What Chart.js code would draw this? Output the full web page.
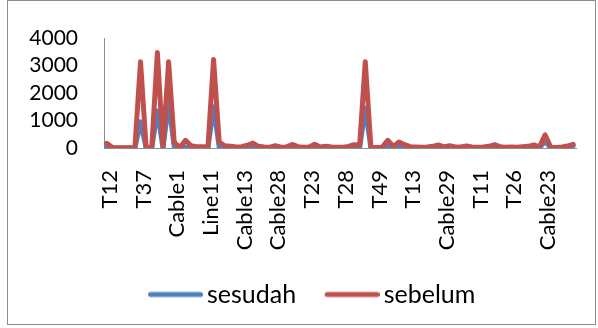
<!DOCTYPE html>
<html>
<head>
<meta charset="utf-8">
<script src="https://cdn.jsdelivr.net/npm/chart.js@4"></script>
<style>
  html, body { margin: 0; padding: 0; background: #fff; }
  #wrap { position: relative; width: 598px; height: 328px; overflow: hidden; }
  #frame { position: absolute; left: 7px; top: 0px; width: 589px; height: 325px; border: 1px solid #8c8c8c; box-sizing: border-box; }
  #c { position: absolute; left: 0; top: 0; }
</style>
</head>
<body>
<div id="wrap">
  <div id="frame"></div>
  <canvas id="c" width="598" height="328"></canvas>
</div>
<script>
// Tick labels shown on the category axis (every 6th category)
const tickLabels = ['T12','T37','Cable1','Line11','Cable13','Cable28','T23','T28','T49','T13','Cable29','T11','T26','Cable23'];
const labelStep = 6;

// Series values (84 categories)
const sebelum = [
  170, 20, 10, 10, 10, 20, 3140, 20, 20, 3470,
  20, 3140, 200, 20, 280, 80, 50, 50, 40, 3220,
  220, 80, 60, 40, 50, 100, 180, 60, 40, 30,
  80, 30, 40, 130, 50, 30, 40, 140, 40, 60,
  40, 30, 30, 60, 120, 110, 3140, 20, 20, 30,
  280, 60, 220, 120, 50, 40, 30, 40, 60, 110,
  40, 80, 40, 40, 70, 40, 30, 40, 60, 120,
  50, 30, 40, 30, 50, 60, 110, 40, 480, 30,
  20, 40, 70, 130
];
const sesudah = [
  50, 0, 0, 0, 0, 0, 950, 0, 0, 1350,
  0, 1650, 50, 0, 30, 0, 0, 0, 0, 1500,
  30, 0, 0, 0, 0, 10, 20, 0, 0, 0,
  10, 0, 0, 10, 0, 0, 0, 10, 0, 0,
  0, 0, 0, 0, 10, 10, 1450, 0, 0, 0,
  60, 0, 50, 10, 0, 0, 0, 0, 10, 10,
  0, 10, 0, 0, 10, 0, 0, 0, 0, 10,
  0, 0, 0, 0, 0, 10, 10, 0, 250, 0,
  0, 0, 10, 80
];
const yTicks = [0, 1000, 2000, 3000, 4000];

const categories = sebelum.map((_, i) => (i % labelStep === 0 ? (tickLabels[i / labelStep] || '') : ''));

const PAD_L = 10, PAD_R = 22, PAD_T = 38, PAD_B = 11;
const PLOT_LEFT = 104, PLOT_BOTTOM = 148;
const LEG_FONT = 25, LEG_PAD = 20;
const LEGEND_H = LEG_FONT + LEG_PAD + 10;
const BOX_W = 55;
const TEXT_GAP = 4;
const LEGEND_START = 148 - (LEG_FONT / 2 - TEXT_GAP);

// Legend symbol: a thick rounded line that ends TEXT_GAP px before the label text
function legendLine(color) {
  const extra = LEG_FONT / 2 - TEXT_GAP;
  const c = document.createElement('canvas');
  c.width = Math.round(BOX_W + 2 * extra);
  c.height = 8;
  const g = c.getContext('2d');
  g.strokeStyle = color; g.lineWidth = 5; g.lineCap = 'round';
  g.beginPath();
  g.moveTo(2 * extra + 2.5, 4);
  g.lineTo(c.width - 2.5, 4);
  g.stroke();
  return c;
}

const legendShift = {
  id: 'legendShift',
  afterLayout(chart) {
    const l = chart.legend;
    if (!l || !l.lineWidths) return;
    const pad = l.options.labels.padding;
    const start = (l.left + pad + l.right - l.lineWidths[0]) / 2;
    const dx = LEGEND_START - start;
    l.left += dx; l.right += dx;
  }
};

new Chart(document.getElementById('c'), {
  type: 'line',
  data: {
    labels: categories,
    datasets: [
      { label: 'sesudah', data: sesudah, borderColor: '#4F81BD', backgroundColor: '#4F81BD',
        pointStyle: legendLine('#4F81BD'),
        borderWidth: 5, pointRadius: 0, tension: 0, borderJoinStyle: 'round', borderCapStyle: 'round', order: 1 },
      { label: 'sebelum', data: sebelum, borderColor: '#C0504D', backgroundColor: '#C0504D',
        pointStyle: legendLine('#C0504D'),
        borderWidth: 5, pointRadius: 0, tension: 0, borderJoinStyle: 'round', borderCapStyle: 'round', order: 0 }
    ]
  },
  plugins: [legendShift],
  options: {
    responsive: false,
    animation: false,
    devicePixelRatio: 1,
    layout: { padding: { left: PAD_L, right: PAD_R, top: PAD_T, bottom: PAD_B } },
    plugins: {
      tooltip: { enabled: false },
      legend: {
        position: 'bottom',
        labels: {
          usePointStyle: true, pointStyleWidth: BOX_W, boxHeight: 5,
          padding: LEG_PAD, color: '#000',
          font: { family: 'Lato', size: LEG_FONT },
          sort: (a, b) => a.datasetIndex - b.datasetIndex
        }
      }
    },
    scales: {
      x: {
        offset: true,
        grid: { display: false, drawTicks: false },
        border: { display: true, color: '#8c8c8c', width: 1 },
        ticks: {
          autoSkip: false, minRotation: 90, maxRotation: 90, padding: 22, labelOffset: 3, color: '#000',
          font: { family: 'Lato', size: 22 }
        },
        afterFit: (s) => {
          s.height = 328 - PAD_B - LEGEND_H - PLOT_BOTTOM;
          s.paddingLeft = 0; s.paddingRight = 0;
        }
      },
      y: {
        min: 0, max: 4000,
        afterBuildTicks: (s) => { s.ticks = yTicks.map(v => ({ value: v })); },
        grid: { display: false, drawTicks: false },
        border: { display: true, color: '#8c8c8c', width: 1 },
        ticks: { autoSkip: false, padding: 26, color: '#000', font: { family: 'Lato', size: 21 },
          callback: (v) => String(v) },
        afterFit: (s) => { s.width = PLOT_LEFT - PAD_L; s.paddingTop = 0; s.paddingBottom = 0; }
      }
    }
  }
});
</script>
</body>
</html>
